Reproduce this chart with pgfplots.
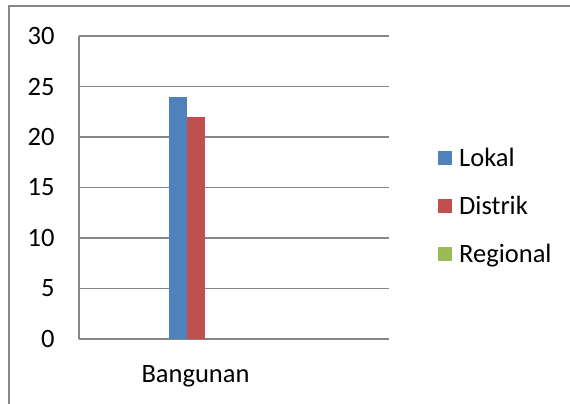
\documentclass[border=0pt]{standalone}
\usepackage{pgfplots}
\pgfplotsset{compat=1.18}
\usepackage{fontspec}
\setmainfont{Carlito}
\definecolor{gridgray}{HTML}{868686}
\definecolor{bblue}{HTML}{4F81BD}
\definecolor{bred}{HTML}{C0504D}
\definecolor{bgreen}{HTML}{9BBB59}
\begin{document}
\begin{tikzpicture}[x=1pt,y=1pt]
\useasboundingbox (0,0) rectangle (570,404);
\draw[gridgray,line width=1.3pt] (9,0) -- (9,398) -- (570,398);
\begin{axis}[
  at={(79pt,65pt)}, anchor=south west,
  scale only axis, width=310pt, height=303pt,
  ybar=0pt, bar width=18pt,
  xmin=-116.5, xmax=193.5, ymin=0, ymax=30,
  xtick={0}, xticklabels={Bangunan},
  ytick={0,5,10,15,20,25,30},
  axis x line*=bottom, axis y line*=left,
  axis line style={gridgray,line width=1.3pt,-},
  ymajorgrids, grid style={gridgray,line width=1.3pt},
  major tick length=0pt,
  tick label style={font=\fontsize{26.5}{31}\selectfont},
  /pgf/number format/assume math mode=true,
  yticklabel style={xshift=-21pt},
  xticklabel style={yshift=-23pt},
  legend style={at={(1.158,0.439)}, anchor=west, draw=none, fill=none,
    font=\fontsize{26.5}{31}\selectfont, inner sep=0pt, row sep=24pt,
    legend cell align=left},
  legend image code/.code={\fill[#1] (0pt,-7pt) rectangle (14pt,7pt); \path (19pt,0pt);},
  clip=false,
]
\addplot[fill=bblue,draw=none] coordinates {(0,24)};
\addplot[fill=bred,draw=none] coordinates {(0,22)};
\addplot[fill=bgreen,draw=none] coordinates {(0,0)};
\legend{Lokal,Distrik,Regional}
\end{axis}
\end{tikzpicture}
\end{document}
